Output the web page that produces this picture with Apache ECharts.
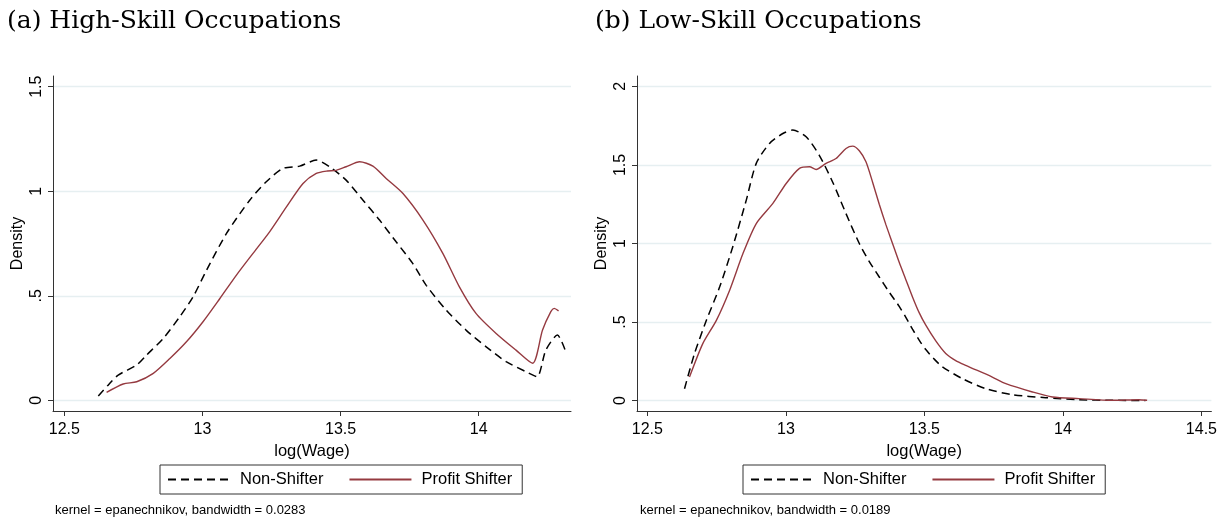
<!DOCTYPE html>
<html>
<head>
<meta charset="utf-8">
<title>Wage densities</title>
<script src="https://cdn.jsdelivr.net/npm/echarts@6/dist/echarts.min.js"></script>
<style>
  html, body { margin: 0; padding: 0; background: #fff; }
  #chart { width: 1220px; height: 518px; }
</style>
</head>
<body>
<div id="chart"></div>
<script>
// tick labels
var xTicksHigh = [12.5, 13, 13.5, 14];
var xTicksLow = [12.5, 13, 13.5, 14, 14.5];
var yTicksHigh = [0, 0.5, 1, 1.5];
var yTicksLow = [0, 0.5, 1, 1.5, 2];

// (a) high-skill, non-shifter
var highNonX = [12.623, 12.66, 12.695, 12.762, 12.798, 12.858, 12.918, 12.966, 13.015, 13.087, 13.171, 13.231, 13.291, 13.352, 13.412, 13.46, 13.52, 13.581, 13.641, 13.701, 13.761, 13.81, 13.882, 13.954, 14.027, 14.099, 14.171, 14.211, 14.243, 14.285, 14.313];
var highNonY = [0.021, 0.075, 0.121, 0.169, 0.217, 0.296, 0.40, 0.495, 0.623, 0.798, 0.957, 1.045, 1.109, 1.12, 1.149, 1.117, 1.053, 0.957, 0.862, 0.758, 0.655, 0.55, 0.432, 0.336, 0.256, 0.185, 0.137, 0.113, 0.24, 0.312, 0.24];
// (a) high-skill, profit shifter
var highProX = [12.653, 12.713, 12.762, 12.822, 12.882, 12.942, 13.002, 13.063, 13.123, 13.183, 13.243, 13.304, 13.364, 13.412, 13.452, 13.484, 13.52, 13.569, 13.617, 13.665, 13.725, 13.798, 13.87, 13.93, 13.99, 14.063, 14.135, 14.195, 14.231, 14.261, 14.273, 14.289];
var highProY = [0.038, 0.078, 0.089, 0.129, 0.20, 0.28, 0.376, 0.487, 0.599, 0.703, 0.806, 0.925, 1.037, 1.085, 1.097, 1.10, 1.117, 1.141, 1.12, 1.061, 0.99, 0.862, 0.703, 0.543, 0.416, 0.32, 0.24, 0.177, 0.336, 0.424, 0.44, 0.428];

// (b) low-skill, non-shifter
var lowNonX = [12.634, 12.67, 12.713, 12.761, 12.808, 12.857, 12.893, 12.941, 12.989, 13.025, 13.073, 13.121, 13.169, 13.217, 13.265, 13.301, 13.337, 13.373, 13.409, 13.433, 13.457, 13.481, 13.505, 13.535, 13.565, 13.637, 13.722, 13.817, 13.938, 14.058, 14.178, 14.298];
var lowNonY = [0.076, 0.299, 0.511, 0.724, 0.978, 1.276, 1.51, 1.637, 1.70, 1.722, 1.679, 1.56, 1.39, 1.19, 1.0, 0.885, 0.787, 0.69, 0.60, 0.53, 0.455, 0.385, 0.325, 0.265, 0.215, 0.14, 0.076, 0.038, 0.019, 0.006, 0.002, 0.001];
// (b) low-skill, profit shifter
var lowProX = [12.652, 12.7, 12.749, 12.797, 12.845, 12.893, 12.953, 13.001, 13.049, 13.085, 13.109, 13.145, 13.181, 13.217, 13.241, 13.265, 13.289, 13.313, 13.337, 13.361, 13.385, 13.409, 13.433, 13.457, 13.481, 13.505, 13.541, 13.577, 13.613, 13.649, 13.745, 13.794, 13.89, 13.962, 14.058, 14.178, 14.274, 14.304];
var lowProY = [0.15, 0.363, 0.511, 0.703, 0.936, 1.127, 1.255, 1.382, 1.478, 1.488, 1.471, 1.51, 1.541, 1.605, 1.62, 1.59, 1.52, 1.39, 1.25, 1.12, 1.0, 0.88, 0.77, 0.66, 0.56, 0.48, 0.38, 0.30, 0.255, 0.225, 0.15, 0.108, 0.055, 0.023, 0.013, 0.002, 0.006, 0.002];

var sans = 'Liberation Sans, Arial, sans-serif';
var serif = 'DejaVu Serif, serif';
var axisColor = '#333';
var red = '#953a40';

function pairs(xs, ys) {
  return xs.map(function (x, i) { return [x, ys[i]]; });
}
function fmtY(v) {
  return v > 0 && v < 1 ? String(v).slice(1) : String(v);
}

function xAxisFor(gi, min, max, ticks) {
  return {
    type: 'value', gridIndex: gi, min: min, max: max,
    name: 'log(Wage)', nameLocation: 'middle', nameGap: 27,
    nameTextStyle: { fontFamily: sans, fontSize: 16.5, color: '#000' },
    axisLine: { onZero: false, lineStyle: { color: axisColor, width: 1 } },
    axisTick: { customValues: ticks, length: 5, lineStyle: { color: axisColor } },
    axisLabel: { customValues: ticks, margin: 11, fontFamily: sans, fontSize: 16, color: '#000' },
    splitLine: { show: false }
  };
}
function yAxisFor(gi, min, max, ticks) {
  return {
    type: 'value', gridIndex: gi, min: min, max: max,
    name: 'Density', nameLocation: 'middle', nameGap: 27, nameRotate: 90,
    nameTextStyle: { fontFamily: sans, fontSize: 16, color: '#000' },
    axisLine: { show: true, onZero: false, lineStyle: { color: axisColor, width: 1 } },
    axisTick: { show: true, customValues: ticks, length: 5, lineStyle: { color: axisColor } },
    axisLabel: { customValues: ticks, rotate: 90, margin: 8, fontFamily: sans, fontSize: 16, color: '#000', formatter: fmtY },
    splitLine: { show: true, lineStyle: { color: '#e6eff1', width: 1.3 } }
  };
}
function lineSeries(name, gi, data, dashed) {
  return {
    name: name, type: 'line', xAxisIndex: gi, yAxisIndex: gi,
    data: data, symbol: 'none', smooth: 0.25, animation: false,
    lineStyle: dashed ? { color: '#000', width: 1.5, type: [8, 5] } : { color: red, width: 1.4 },
    itemStyle: { color: dashed ? '#000' : red }
  };
}
function legendAt(left) {
  return {
    left: left, top: 465, orient: 'horizontal',
    data: ['Non-Shifter', 'Profit Shifter'],
    itemWidth: 62, itemHeight: 14, itemGap: 25,
    padding: [6, 10, 6, 7],
    borderColor: '#333', borderWidth: 1, borderRadius: 0,
    selectedMode: false,
    // hide the marker dot, keep the line sample
    itemStyle: { color: 'rgba(0,0,0,0)', borderColor: 'rgba(0,0,0,0)', borderWidth: 0, opacity: 0 },
    textStyle: { fontFamily: sans, fontSize: 16.5, color: '#000', padding: [0, 0, 0, 5] }
  };
}

var chart = echarts.init(document.getElementById('chart'), null, { renderer: 'canvas' });
chart.setOption({
  backgroundColor: '#fff',
  animation: false,
  title: [
    { text: '(a) High-Skill Occupations', left: 7, top: 9, padding: 0,
      textStyle: { fontFamily: serif, fontSize: 25, fontWeight: 'normal', color: '#000' } },
    { text: '(b) Low-Skill Occupations', left: 595, top: 9, padding: 0,
      textStyle: { fontFamily: serif, fontSize: 25, fontWeight: 'normal', color: '#000' } },
    { text: 'kernel = epanechnikov, bandwidth = 0.0283', left: 55, top: 504, padding: 0,
      textStyle: { fontFamily: sans, fontSize: 13, fontWeight: 'normal', color: '#000' } },
    { text: 'kernel = epanechnikov, bandwidth = 0.0189', left: 640, top: 504, padding: 0,
      textStyle: { fontFamily: sans, fontSize: 13, fontWeight: 'normal', color: '#000' } }
  ],
  legend: [legendAt(160), legendAt(743)],
  grid: [
    { left: 53, top: 76, width: 518, height: 335 },
    { left: 637, top: 76, width: 575, height: 335 }
  ],
  xAxis: [
    xAxisFor(0, 12.459, 14.334, xTicksHigh),
    xAxisFor(1, 12.4625, 14.536, xTicksLow)
  ],
  yAxis: [
    yAxisFor(0, -0.051, 1.551, yTicksHigh),
    yAxisFor(1, -0.066, 2.066, yTicksLow)
  ],
  series: [
    lineSeries('Non-Shifter', 0, pairs(highNonX, highNonY), true),
    lineSeries('Profit Shifter', 0, pairs(highProX, highProY), false),
    lineSeries('Non-Shifter', 1, pairs(lowNonX, lowNonY), true),
    lineSeries('Profit Shifter', 1, pairs(lowProX, lowProY), false)
  ]
});
window.addEventListener('resize', chart.resize);
</script>
</body>
</html>
